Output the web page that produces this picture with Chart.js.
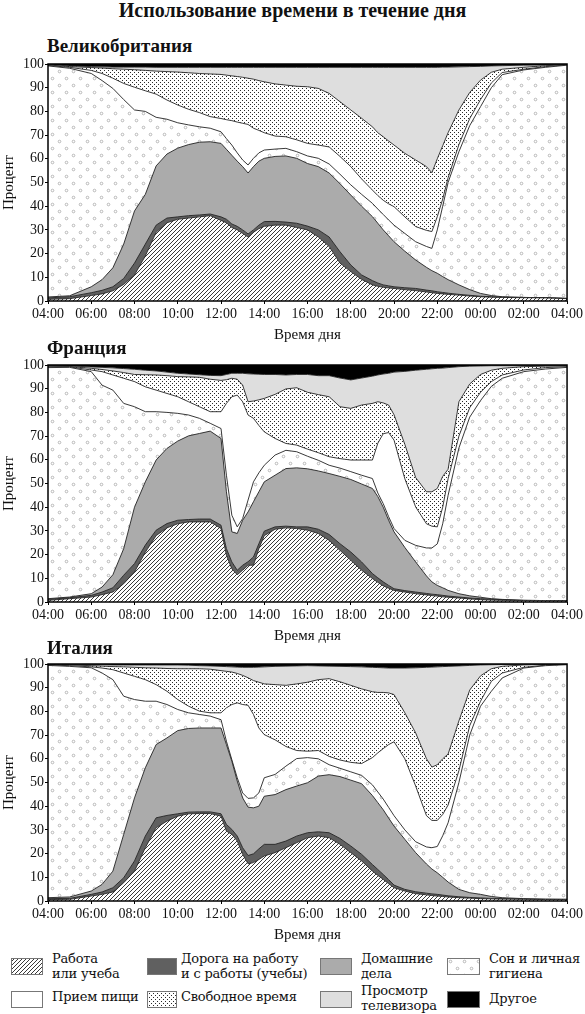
<!DOCTYPE html>
<html lang="ru">
<head>
<meta charset="utf-8">
<title>Использование времени в течение дня</title>
<script src="https://cdn.jsdelivr.net/npm/chart.js@4.4.1/dist/chart.umd.min.js"></script>
<style>
  html, body { margin: 0; padding: 0; background: #fff; }
  body { width: 585px; height: 1014px; position: relative; overflow: hidden;
         font-family: "Liberation Serif", serif; color: #111; }
  .title { position: absolute; left: 0; top: 0; width: 585px; text-align: center;
           font-weight: bold; font-size: 20px; line-height: 20px; }
  .panel-title { position: absolute; left: 47px; font-weight: bold; font-size: 19px; line-height: 20px; }
  canvas.chart { position: absolute; left: 0; }
  canvas.swatch { position: absolute; }
  .lab { position: absolute; font-family: "DejaVu Serif", serif; font-size: 13px; line-height: 15px;
         white-space: nowrap; letter-spacing: -0.2px; }
</style>
</head>
<body>
<div class="title">Использование времени в течение дня</div>

<div class="panel-title" style="top:36px">Великобритания</div>
<canvas class="chart" id="ukChart" width="585" height="292" style="top:54px"></canvas>

<div class="panel-title" style="top:338px">Франция</div>
<canvas class="chart" id="frChart" width="585" height="292" style="top:355px"></canvas>

<div class="panel-title" style="top:638px">Италия</div>
<canvas class="chart" id="itChart" width="585" height="292" style="top:654px"></canvas>

<!-- legend -->
<canvas class="swatch" id="swWork" width="32" height="17" style="left:11px;top:958px"></canvas>
<div class="lab" style="left:52px;top:951px">Работа<br>или учеба</div>
<canvas class="swatch" id="swCommute" width="30" height="17" style="left:147px;top:958px"></canvas>
<div class="lab" style="left:181px;top:951px">Дорога на работу<br>и с работы (учебы)</div>
<canvas class="swatch" id="swHouse" width="32" height="17" style="left:320px;top:958px"></canvas>
<div class="lab" style="left:361px;top:951px">Домашние<br>дела</div>
<canvas class="swatch" id="swSleep" width="33" height="17" style="left:447px;top:958px"></canvas>
<div class="lab" style="left:489px;top:951px">Сон и личная<br>гигиена</div>

<canvas class="swatch" id="swMeal" width="32" height="17" style="left:11px;top:991px"></canvas>
<div class="lab" style="left:52px;top:989px">Прием пищи</div>
<canvas class="swatch" id="swLeisure" width="30" height="17" style="left:147px;top:991px"></canvas>
<div class="lab" style="left:181px;top:989px">Свободное время</div>
<canvas class="swatch" id="swTv" width="32" height="17" style="left:320px;top:991px"></canvas>
<div class="lab" style="left:361px;top:983px">Просмотр<br>телевизора</div>
<canvas class="swatch" id="swOther" width="33" height="17" style="left:447px;top:991px"></canvas>
<div class="lab" style="left:489px;top:991px">Другое</div>

<script>
// Time of day in hours, 4 = 04:00 ... 28 = 04:00 next day
const times = [4, 5, 6, 6.5, 7, 7.5, 8, 8.5, 9, 9.5, 10, 10.5, 11, 11.5, 12, 12.25, 12.5, 12.75,
  13, 13.25, 13.5, 13.75, 14, 14.5, 15, 15.5, 16, 16.5, 17, 17.5, 18, 18.5, 19, 19.25, 19.5, 19.75,
  20, 20.5, 21, 21.5, 21.75, 22, 22.25, 22.5, 23, 23.5, 24, 24.5, 25, 26, 27, 28];

const xTicks = [4, 6, 8, 10, 12, 14, 16, 18, 20, 22, 24, 26, 28];
const yTicks = [0, 10, 20, 30, 40, 50, 60, 70, 80, 90, 100];

// Upper edge (cumulative %) of each layer, bottom to top.
// Work, commute, housework, sleep, meals, leisure, TV; "other" fills the rest up to 100.

// Великобритания
const ukWork = [0.7, 1.0, 2.3, 3.0, 4.3, 7.0, 11.0, 19.0, 29.0, 33.0, 34.5, 35.0, 35.5, 36.0, 34.0,
  33.0, 31.0, 30.0, 28.5, 27.0, 29.0, 30.5, 31.5, 32.0, 32.0, 31.0, 30.0, 27.0, 23.0, 16.0, 12.4, 9.1,
  6.8, 6.2, 5.8, 5.5, 5.3, 4.8, 4.4, 3.8, 3.5, 3.2, 3.0, 2.8, 2.5, 2.1, 1.8, 1.6, 1.5, 1.4, 1.3, 1.0];
const ukCommute = [1.3, 1.8, 3.5, 4.5, 6.0, 9.5, 16.0, 24.0, 32.0, 35.0, 35.5, 36.0, 36.3, 36.7, 35.5,
  34.5, 32.5, 31.5, 30.0, 28.3, 30.0, 32.0, 33.5, 33.6, 33.3, 32.8, 31.6, 30.0, 27.0, 20.8, 15.2, 11.0,
  8.6, 7.6, 6.8, 6.4, 6.0, 5.6, 5.3, 4.6, 4.3, 3.9, 3.6, 3.3, 2.8, 2.4, 2.0, 1.8, 1.6, 1.5, 1.4, 1.1];
const ukHouse = [1.7, 2.2, 6.0, 9.0, 14.0, 24.0, 38.0, 45.0, 57.0, 62.0, 64.5, 66.0, 67.0, 67.2, 66.5,
  64.0, 61.5, 59.0, 56.7, 54.0, 56.7, 59.0, 60.2, 61.0, 61.2, 60.2, 58.0, 56.7, 54.0, 49.5, 44.7, 40.0,
  35.6, 32.8, 30.0, 27.5, 25.0, 21.0, 17.3, 14.2, 12.8, 11.7, 10.3, 9.0, 6.8, 4.8, 3.2, 2.3, 1.8, 1.5, 1.4, 1.1];
const ukSleep = [99.2, 98.2, 96.0, 93.0, 89.7, 85.0, 80.6, 80.0, 77.5, 76.7, 75.2, 74.3, 73.5, 72.9, 71.4,
  68.5, 65.8, 62.5, 59.5, 57.4, 60.2, 62.5, 63.7, 64.1, 64.4, 63.0, 61.2, 60.2, 57.8, 53.5, 49.0, 45.0,
  41.2, 38.8, 36.5, 34.2, 32.0, 28.5, 25.0, 23.0, 22.2, 30.0, 40.0, 50.0, 63.0, 74.0, 82.0, 90.0, 95.5, 97.5, 98.6, 99.5];
const ukMeal = [99.4, 98.6, 97.3, 96.0, 94.0, 91.8, 90.2, 88.7, 87.3, 84.8, 82.7, 80.9, 79.5, 77.8, 77.0,
  76.5, 76.1, 75.5, 75.0, 74.5, 72.9, 72.0, 71.0, 69.6, 69.3, 68.0, 66.5, 65.8, 65.0, 61.0, 56.7, 51.5,
  46.8, 44.5, 42.5, 41.0, 39.8, 35.5, 31.4, 29.8, 29.3, 35.6, 43.0, 52.0, 66.0, 77.0, 85.0, 92.0, 96.4, 97.8, 98.9, 99.6];
const ukLeisure = [99.6, 98.9, 98.5, 98.3, 98.0, 97.8, 97.6, 97.3, 97.0, 96.8, 96.6, 96.3, 96.0, 95.8, 95.6,
  95.3, 95.0, 94.7, 94.4, 94.0, 93.6, 93.0, 92.5, 91.6, 91.1, 90.6, 90.4, 89.7, 87.6, 84.1, 80.6, 77.1,
  73.5, 71.0, 69.3, 67.5, 65.8, 62.3, 59.5, 56.7, 54.1, 60.0, 65.5, 71.0, 80.6, 88.0, 93.2, 96.5, 97.8, 98.6, 99.3, 99.7];
const ukTv = [99.8, 99.2, 98.9, 98.8, 98.7, 98.7, 98.7, 98.7, 98.6, 98.6, 98.6, 98.6, 98.6, 98.6, 98.6,
  98.6, 98.6, 98.6, 98.6, 98.6, 98.6, 98.6, 98.6, 98.6, 98.6, 98.6, 98.6, 98.6, 98.6, 98.6, 98.6, 98.6,
  98.6, 98.6, 98.6, 98.6, 98.6, 98.6, 98.6, 98.6, 98.6, 98.6, 98.7, 98.7, 98.8, 98.9, 99.0, 99.2, 99.3, 99.5, 99.6, 99.8];

// Франция
const frWork = [0.7, 1.4, 2.1, 3.1, 4.2, 7.7, 12.7, 21.0, 28.0, 31.3, 33.0, 33.8, 33.8, 33.8, 31.0,
  19.7, 14.0, 11.5, 13.4, 15.5, 15.5, 22.5, 28.0, 30.7, 31.3, 31.0, 30.3, 28.9, 26.0, 21.8, 17.6, 13.4,
  9.9, 8.3, 6.8, 5.8, 4.9, 4.2, 3.5, 3.0, 2.7, 2.5, 2.2, 2.0, 1.7, 1.3, 1.0, 0.8, 0.7, 0.6, 0.5, 0.5];
const frCommute = [1.1, 1.8, 2.8, 4.2, 6.0, 11.3, 16.2, 24.0, 30.3, 33.1, 34.5, 34.8, 35.0, 35.0, 32.4,
  22.5, 16.9, 13.4, 15.5, 17.0, 19.0, 24.6, 29.9, 31.7, 32.0, 31.7, 31.7, 30.7, 28.5, 24.6, 21.1, 16.9,
  12.0, 10.2, 8.5, 7.0, 5.6, 4.8, 4.2, 3.6, 3.3, 3.1, 2.8, 2.5, 2.1, 1.7, 1.4, 1.2, 1.0, 0.7, 0.6, 0.6];
const frHouse = [1.4, 2.1, 3.5, 6.3, 11.5, 22.5, 40.0, 50.7, 59.9, 64.8, 67.9, 70.1, 71.1, 72.1, 69.0,
  46.5, 29.6, 28.9, 34.5, 38.0, 42.3, 46.5, 50.7, 53.5, 56.3, 56.6, 56.2, 55.3, 54.2, 53.0, 51.7, 49.8,
  47.9, 44.5, 40.0, 34.5, 29.6, 23.0, 16.9, 11.0, 8.5, 7.0, 6.0, 4.9, 3.5, 2.6, 2.0, 1.4, 1.1, 0.7, 0.6, 0.6];
const frSleep = [98.9, 99.0, 97.2, 91.5, 89.4, 83.8, 82.4, 80.3, 80.3, 80.0, 79.6, 78.9, 77.5, 75.4, 73.2,
  53.5, 36.6, 31.7, 35.2, 43.0, 50.7, 54.5, 57.7, 62.0, 64.0, 63.4, 61.5, 59.8, 57.7, 56.5, 55.0, 53.5,
  52.1, 46.0, 41.5, 36.0, 31.0, 26.0, 23.9, 22.8, 22.8, 24.5, 33.0, 45.0, 65.0, 78.0, 85.0, 91.0, 94.4, 97.2, 98.3, 99.0];
const frMeal = [99.2, 99.2, 97.9, 97.2, 95.8, 94.4, 93.0, 90.8, 89.4, 88.0, 86.6, 84.5, 82.4, 80.3, 80.3,
  83.8, 86.6, 87.3, 84.5, 78.9, 77.5, 74.5, 71.8, 69.0, 66.9, 66.2, 64.5, 63.0, 61.3, 60.5, 59.9, 59.9,
  59.9, 67.0, 71.0, 71.5, 68.3, 52.0, 40.1, 33.0, 32.0, 31.7, 40.0, 52.0, 70.0, 82.0, 88.5, 93.0, 95.8, 97.9, 98.9, 99.3];
const frLeisure = [99.5, 99.4, 98.6, 98.1, 97.5, 96.8, 96.0, 95.9, 95.8, 95.5, 95.1, 95.0, 94.8, 94.0, 93.5,
  93.8, 94.4, 94.0, 91.5, 84.5, 84.8, 85.3, 85.9, 87.6, 89.9, 90.4, 88.5, 87.5, 86.6, 82.4, 81.7, 83.1,
  83.8, 84.5, 84.0, 83.1, 79.0, 66.5, 52.5, 46.5, 46.5, 47.9, 53.0, 56.0, 84.5, 92.0, 96.0, 97.8, 98.6, 99.3, 99.5, 99.6];
const frTv = [99.7, 99.6, 99.2, 99.0, 98.8, 98.5, 98.2, 97.8, 97.5, 97.0, 96.5, 96.2, 95.9, 95.6, 95.5,
  96.0, 96.5, 96.5, 96.5, 96.3, 96.2, 96.1, 96.0, 96.0, 95.8, 96.0, 96.0, 95.5, 95.5, 94.5, 93.7, 94.5,
  95.3, 95.8, 96.2, 96.5, 97.0, 97.3, 97.8, 98.2, 98.4, 98.6, 98.7, 98.9, 99.3, 99.5, 99.6, 99.7, 99.7, 99.7, 99.7, 99.7];

// Италия
const itWork = [0.6, 0.7, 2.1, 2.8, 3.8, 7.7, 12.6, 22.5, 30.9, 33.7, 35.8, 36.8, 36.9, 36.9, 35.8,
  29.5, 28.1, 25.3, 19.7, 15.7, 16.2, 17.5, 19.0, 20.4, 22.5, 24.6, 26.7, 27.4, 26.7, 23.9, 20.4, 16.9,
  12.6, 10.8, 9.1, 7.3, 5.6, 4.2, 3.1, 2.6, 2.3, 2.1, 1.9, 1.7, 1.4, 1.2, 1.0, 0.9, 0.8, 0.7, 0.6, 0.6];
const itCommute = [1.0, 1.1, 2.8, 3.8, 5.6, 9.8, 16.9, 27.4, 35.1, 36.1, 36.8, 37.5, 37.6, 37.6, 36.8,
  32.3, 30.2, 27.4, 22.5, 19.2, 19.9, 22.0, 23.9, 23.9, 25.3, 27.4, 28.8, 29.2, 28.8, 26.4, 23.2, 19.7,
  15.4, 13.3, 11.2, 9.0, 6.7, 4.9, 3.9, 3.3, 3.0, 2.8, 2.5, 2.2, 1.8, 1.5, 1.3, 1.1, 1.0, 0.8, 0.7, 0.7];
const itHouse = [1.4, 1.7, 4.2, 7.0, 12.6, 28.1, 43.5, 56.2, 66.0, 68.8, 71.9, 72.8, 73.0, 73.0, 73.0,
  66.0, 59.0, 50.6, 43.5, 39.6, 39.3, 40.0, 44.2, 44.9, 47.0, 48.5, 49.9, 52.7, 53.3, 52.5, 51.0, 49.5,
  44.5, 41.5, 38.5, 35.0, 31.6, 26.0, 20.4, 15.6, 13.5, 11.9, 10.0, 8.0, 4.9, 3.5, 2.8, 1.9, 1.4, 1.0, 0.8, 0.7];
const itSleep = [99.4, 99.0, 98.4, 96.2, 93.4, 86.4, 85.0, 84.3, 84.3, 82.9, 80.8, 79.4, 78.7, 78.0, 76.5,
  67.4, 59.6, 52.0, 45.6, 43.3, 43.5, 45.6, 52.0, 53.4, 56.9, 60.1, 60.5, 60.0, 57.5, 56.0, 54.5, 53.0,
  49.0, 46.0, 43.0, 39.5, 36.0, 30.0, 25.0, 22.8, 22.5, 23.0, 27.5, 33.0, 50.0, 70.0, 82.2, 88.5, 94.1, 98.3, 99.3, 99.7];
const itMeal = [99.6, 99.3, 98.8, 98.3, 97.6, 96.2, 94.8, 93.4, 91.3, 88.5, 85.0, 82.2, 80.1, 79.4, 79.4,
  81.5, 82.9, 83.6, 82.9, 82.6, 78.7, 73.0, 70.2, 68.0, 65.2, 63.5, 63.2, 63.5, 61.0, 59.5, 58.5, 58.0,
  60.5, 62.5, 64.3, 66.0, 67.2, 60.0, 48.5, 36.0, 34.0, 34.0, 36.5, 40.5, 55.0, 74.0, 84.3, 92.7, 96.2, 98.6, 99.5, 99.8];
const itLeisure = [99.8, 99.6, 99.3, 99.1, 98.9, 98.8, 98.6, 98.4, 98.3, 98.1, 98.0, 98.0, 98.0, 97.8, 97.2,
  96.9, 96.6, 96.0, 95.2, 94.2, 93.0, 92.3, 91.6, 91.3, 91.0, 91.6, 92.3, 93.4, 93.8, 92.5, 91.0, 89.5,
  88.3, 88.0, 88.0, 87.8, 87.1, 79.4, 70.9, 60.0, 56.5, 57.5, 60.0, 62.0, 76.0, 89.0, 95.0, 98.0, 99.0, 99.6, 99.8, 99.9];
const itTv = [99.9, 99.8, 99.7, 99.7, 99.6, 99.6, 99.6, 99.6, 99.6, 99.6, 99.6, 99.5, 99.3, 99.2, 99.0,
  98.9, 98.8, 98.7, 98.6, 98.6, 98.6, 98.7, 98.8, 99.0, 99.1, 99.2, 99.3, 99.2, 99.1, 99.0, 98.9, 98.8,
  98.6, 98.5, 98.4, 98.3, 98.3, 98.3, 98.4, 98.6, 98.7, 98.8, 98.9, 99.0, 99.2, 99.4, 99.6, 99.7, 99.8, 99.9, 99.9, 100];

const SERIF = '"Liberation Serif", serif';

// Fill textures (tiles repeated by canvas patterns)
function tile(w, h, draw) {
  const c = document.createElement("canvas");
  c.width = w; c.height = h;
  const g = c.getContext("2d");
  g.fillStyle = "#fff";
  g.fillRect(0, 0, w, h);
  draw(g);
  return c;
}
const hatchTile = tile(4, 4, g => {
  g.strokeStyle = "#222";
  g.lineWidth = 0.9;
  g.beginPath();
  g.moveTo(0, 4); g.lineTo(4, 0);
  g.moveTo(-1, 1); g.lineTo(1, -1);
  g.moveTo(3, 5); g.lineTo(5, 3);
  g.stroke();
});
const denseDotTile = tile(4, 4, g => {
  g.fillStyle = "#2a2a2a";
  g.fillRect(0, 0, 1, 1);
  g.fillRect(2, 2, 1, 1);
});
const sparseDotTile = tile(14, 14, g => {
  g.strokeStyle = "#a8a8a8";
  g.lineWidth = 0.8;
  g.beginPath(); g.arc(3.5, 3.5, 1.3, 0, Math.PI * 2); g.stroke();
  g.beginPath(); g.arc(10.5, 10.5, 1.3, 0, Math.PI * 2); g.stroke();
});

function fills(ctx) {
  return {
    work: ctx.createPattern(hatchTile, "repeat"),
    commute: "#606060",
    house: "#ababab",
    sleep: ctx.createPattern(sparseDotTile, "repeat"),
    meal: "#ffffff",
    leisure: ctx.createPattern(denseDotTile, "repeat"),
    tv: "#dedede",
    other: "#000000"
  };
}

// Black frame round the plot area
const framePlugin = {
  id: "frame",
  afterDatasetsDraw(chart) {
    const { ctx, chartArea: a } = chart;
    ctx.save();
    ctx.strokeStyle = "#000";
    ctx.lineWidth = 1.5;
    ctx.strokeRect(a.left, a.top, a.right - a.left, a.bottom - a.top);
    ctx.restore();
  }
};

function pts(arr) {
  return times.map((t, i) => ({ x: t, y: arr[i] }));
}

function layer(label, arr, bg, fill) {
  return {
    label: label,
    data: pts(arr),
    fill: fill,
    backgroundColor: bg,
    borderColor: "#222",
    borderWidth: 0.9,
    pointRadius: 0,
    tension: 0
  };
}

function createPanel(canvasId, work, commute, house, sleep, meal, leisure, tv) {
  const canvas = document.getElementById(canvasId);
  const ctx = canvas.getContext("2d");
  const f = fills(ctx);
  const other = layer("Другое", tv, f.other, "end");
  other.borderWidth = 0;

  return new Chart(ctx, {
    type: "line",
    data: {
      datasets: [
        layer("Работа или учеба", work, f.work, "origin"),
        layer("Дорога на работу и с работы (учебы)", commute, f.commute, "-1"),
        layer("Домашние дела", house, f.house, "-1"),
        layer("Сон и личная гигиена", sleep, f.sleep, "-1"),
        layer("Прием пищи", meal, f.meal, "-1"),
        layer("Свободное время", leisure, f.leisure, "-1"),
        layer("Просмотр телевизора", tv, f.tv, "-1"),
        other
      ]
    },
    options: {
      responsive: false,
      animation: false,
      layout: { padding: { left: 0, right: 16, top: 10, bottom: 0 } },
      plugins: { legend: { display: false }, tooltip: { enabled: false } },
      scales: {
        x: {
          type: "linear",
          min: 4,
          max: 28,
          afterBuildTicks: s => { s.ticks = xTicks.map(v => ({ value: v })); },
          afterFit: s => { s.height = 45; },
          border: { display: false },
          grid: { display: true, drawOnChartArea: false, drawTicks: true, tickLength: 3, color: "#000" },
          ticks: {
            autoSkip: false,
            maxRotation: 0,
            padding: 2,
            color: "#111",
            font: { family: SERIF, size: 14 },
            callback: v => String(v % 24).padStart(2, "0") + ":00"
          },
          title: {
            display: true,
            text: "Время дня",
            color: "#111",
            font: { family: SERIF, size: 15 },
            padding: { top: 0, bottom: 2 }
          }
        },
        y: {
          min: 0,
          max: 100,
          afterBuildTicks: s => { s.ticks = yTicks.map(v => ({ value: v })); },
          afterFit: s => { s.width = 48; },
          border: { display: false },
          grid: { display: true, drawOnChartArea: false, drawTicks: true, tickLength: 3, color: "#000" },
          ticks: {
            padding: 1,
            color: "#111",
            font: { family: SERIF, size: 14 }
          },
          title: {
            display: true,
            text: "Процент",
            color: "#111",
            font: { family: SERIF, size: 15 },
            padding: { top: 0, bottom: 0 }
          }
        }
      }
    },
    plugins: [framePlugin]
  });
}

// Legend swatches use the same fills as the charts
function paintSwatch(id, key) {
  const c = document.getElementById(id);
  const g = c.getContext("2d");
  g.fillStyle = fills(g)[key];
  g.fillRect(0, 0, c.width, c.height);
  g.strokeStyle = "#777";
  g.lineWidth = 1;
  g.strokeRect(0.5, 0.5, c.width - 1, c.height - 1);
}

createPanel("ukChart", ukWork, ukCommute, ukHouse, ukSleep, ukMeal, ukLeisure, ukTv);
createPanel("frChart", frWork, frCommute, frHouse, frSleep, frMeal, frLeisure, frTv);
createPanel("itChart", itWork, itCommute, itHouse, itSleep, itMeal, itLeisure, itTv);

paintSwatch("swWork", "work");
paintSwatch("swCommute", "commute");
paintSwatch("swHouse", "house");
paintSwatch("swSleep", "sleep");
paintSwatch("swMeal", "meal");
paintSwatch("swLeisure", "leisure");
paintSwatch("swTv", "tv");
paintSwatch("swOther", "other");
</script>
</body>
</html>
